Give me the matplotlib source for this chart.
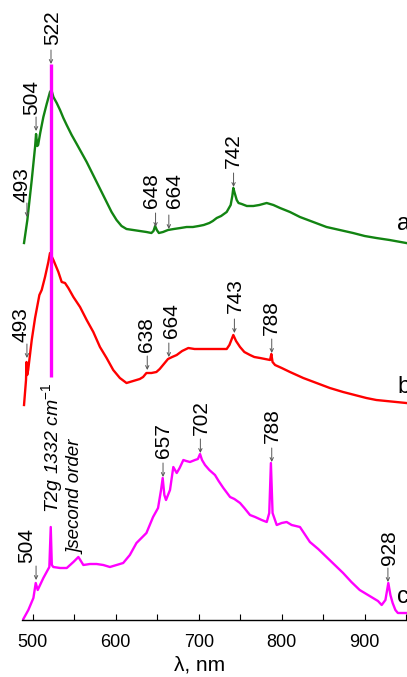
import matplotlib
matplotlib.use("Agg")
import matplotlib.pyplot as plt
from matplotlib.ticker import MultipleLocator

plt.rcParams['font.family'] = ['Liberation Sans', 'DejaVu Sans']
plt.rcParams['mathtext.fontset'] = 'custom'
plt.rcParams['mathtext.rm'] = 'Liberation Sans'
plt.rcParams['mathtext.it'] = 'Liberation Sans:italic'

# ---- data (wavelength nm, intensity in arbitrary stacked units) ----
wl_a = [489.5, 493.5, 498.8, 502.8, 504.0, 505.5, 506.5, 509, 512.8, 516.8, 520.8, 522.5, 524.9,
        528.9, 532.9, 536.9, 540.9, 546.9, 553, 559, 565, 571, 577, 583, 589, 595, 601, 607,
        613, 621, 629, 637, 643, 645.5, 647.5, 649.5, 652, 657, 663, 670, 678, 685.5, 693, 700,
        706, 712.8, 717, 721.7, 727, 733.7, 738.5, 740.5, 741.7, 743, 745.8, 748, 751.8, 758,
        765.8, 773, 781.9, 790, 798, 810, 822, 838, 854, 870, 886, 900, 914, 930, 950]
in_a = [377, 400, 440, 473, 486, 474, 475, 487, 503, 516, 528, 530, 523,
        517, 510, 502, 495, 485, 476, 467, 458, 448, 438, 428, 418, 408, 400, 394,
        391, 390, 389, 388, 387, 389, 394, 390, 387, 388, 390, 391, 392, 393, 393, 394,
        395, 397, 399, 402, 404, 408, 415, 424, 432, 428, 420, 417, 416, 414,
        414, 415, 417, 415, 412, 408, 403, 398, 393, 390, 387, 384, 382, 380, 377]

wl_b = [489.5, 491.9, 492.5, 493.3, 494.5, 498.8, 502.8, 508, 510.8, 514.8, 518.8, 520.8, 524.9,
        530.9, 534.9, 538.9, 542.9, 549, 557, 565, 573, 581, 589, 597, 605, 613, 621, 629, 633,
        637, 643, 649, 653, 657, 663, 668, 673.5, 680, 687.5, 695, 701.6, 712.8, 725, 733.7, 737,
        741.7, 745, 749.8, 755, 761.8, 767, 773.9, 780, 786, 787.5, 789, 792, 800, 810, 826, 842,
        858, 874, 888, 902, 914, 926, 938, 950]
in_b = [215, 240, 258, 245, 250, 280, 302, 325, 330, 343, 358, 367, 360,
        348, 338, 337, 332, 323, 313, 300, 288, 273, 262, 250, 242, 237, 239, 241, 243,
        247, 247, 248, 251, 255, 261, 263, 265, 269, 272, 271, 271, 271, 271, 271, 275,
        285, 279, 273, 268, 265, 263, 262, 261, 260, 266, 258, 255, 252, 248, 242, 237,
        232, 228, 225, 222, 220, 219, 218, 217]

wl_c = [488.7, 494.7, 500.8, 503.6, 506, 512.8, 520, 521.7, 523, 524.8, 533, 541, 549, 555, 561,
        569, 577, 585, 593, 601, 609, 617, 625, 631, 637, 641, 645, 651, 654.6, 656.6, 658.6,
        660.6, 665.4, 669.4, 673.5, 677, 681.5, 685, 689.5, 695.5, 699, 701.6, 704, 707.6,
        712.8, 719.6, 724, 729.7, 737.8, 743, 749.8, 755, 761.8, 768, 775.9, 782, 785, 787, 789,
        794, 800, 806, 812, 822, 834, 844, 854, 864, 874, 884, 894, 902, 910, 916, 920.5, 925,
        928.5, 931, 933.7, 937, 940, 950]
in_c = [1, 10, 22, 37, 30, 42, 53, 93, 55, 53, 52, 52, 58, 63, 55,
        56, 56, 55, 53, 55, 57, 65, 77, 82, 87, 95, 103, 112, 130, 142, 125,
        120, 130, 153, 147, 152, 160, 159, 158, 160, 161, 166, 160, 155,
        150, 145, 139, 132, 123, 121, 117, 112, 105, 103, 100, 98, 107, 157, 107,
        95, 97, 98, 95, 93, 78, 71, 63, 55, 47, 38, 30, 26, 22, 19, 15, 20,
        37, 25, 17, 10, 7, 7]

diamond_wl = 522
diamond_range = [243, 556]

peaks_a = [493, 504, 522, 648, 664, 742]
tips_a = [403, 489, 556, 393, 391, 433]
peaks_b = [493, 638, 664, 743, 788]
tips_b = [262, 250, 263, 287, 267]
peaks_c = [504, 657, 702, 788, 928]
tips_c = [40, 143, 167, 158, 38]

curve_names = ['a', 'b', 'c']

x_ticks = [500, 600, 700, 800, 900]

# ---- layout of peak labels (text centre x in nm, text bottom in plot units) ----
lab_x_a = [486.7, 498.8, 523.9, 643.4, 670.5, 741.7]
lab_y_a = [418, 505, 575, 412, 412, 452]
lab_x_b = [485.7, 637.3, 667.5, 744, 788]
lab_y_b = [278, 268, 282, 307, 285]
lab_x_c = [492.8, 657.4, 702.8, 788.3, 929.5]
lab_y_c = [57, 162, 185, 177, 55]
name_pos = [(939, 390), (939, 227), (939, 17)]

# ---- figure ----
W, H = 407, 677
fig = plt.figure(figsize=(W / 100, H / 100), dpi=100)
ax = fig.add_axes([21.7 / W, 57 / H, 1 - 21.7 / W, 620 / H])
ax.set_xlim(486.7, 951)
ax.set_ylim(0, 620)

green, red, mag = '#128412', '#ff0000', '#ff00ff'
ax.plot(wl_a, in_a, color=green, lw=1.7, zorder=2)
ax.plot(wl_b, in_b, color=red, lw=1.7, zorder=2)
ax.plot(wl_c, in_c, color=mag, lw=1.7, zorder=2)
ax.vlines(diamond_wl, diamond_range[0], diamond_range[1], color=mag, lw=2.4, zorder=3)

arrow_kw = dict(arrowstyle='->', color='#555555', lw=0.7, mutation_scale=6,
                shrinkA=0, shrinkB=0)
groups = [(peaks_a, tips_a, lab_x_a, lab_y_a),
          (peaks_b, tips_b, lab_x_b, lab_y_b),
          (peaks_c, tips_c, lab_x_c, lab_y_c)]
for peaks, tips, lx, ly in groups:
    for p, t, x, y in zip(peaks, tips, lx, ly):
        ax.annotate('', xy=(p, t), xytext=(p, t + 14), arrowprops=arrow_kw,
                    annotation_clip=False)
        ax.text(x, y, str(p), rotation=90, ha='center', va='bottom', fontsize=15)

ax.text(523.3, 107, 'T2g 1332 cm$^{-1}$', rotation=90, ha='center', va='bottom',
        fontsize=14, style='italic')
ax.text(552, 66, ']second order', rotation=90, ha='center', va='bottom',
        fontsize=13.5, style='italic')

for nm, (x, y) in zip(curve_names, name_pos):
    ax.text(x, y, nm, ha='left', va='baseline', fontsize=17)

for s in ['left', 'top', 'right']:
    ax.spines[s].set_visible(False)
ax.spines['bottom'].set_linewidth(1.0)
ax.set_yticks([])
ax.set_xticks(x_ticks)
ax.xaxis.set_minor_locator(MultipleLocator(50))
ax.tick_params(axis='x', which='both', direction='in', length=4, width=0.8,
               labelsize=13, pad=10)
ax.set_xlabel('λ, nm', fontsize=15, labelpad=1)
ax.xaxis.set_label_coords((200 - 21.7) / (W - 21.7), -0.058)

fig.savefig('out.png', dpi=100)
